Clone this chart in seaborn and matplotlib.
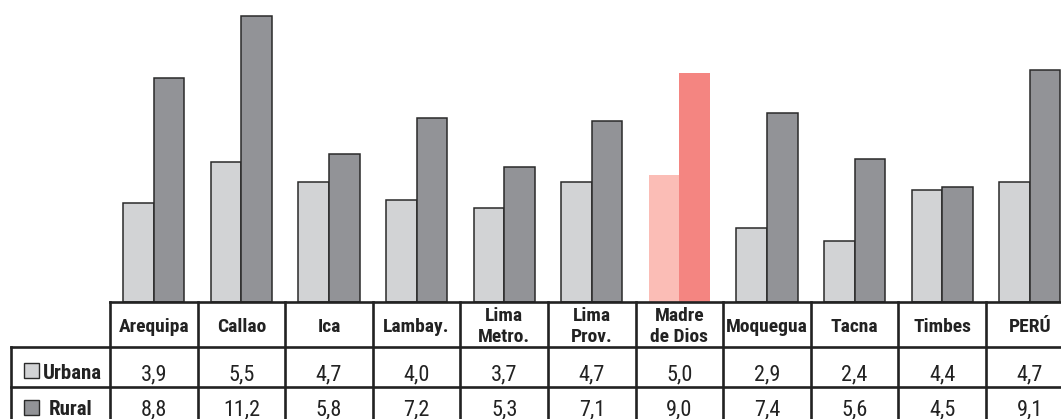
import pandas as pd
import matplotlib.pyplot as plt
import seaborn as sns
from matplotlib.patches import Rectangle

# Datos (tasas por área de residencia)
regiones = ["Arequipa", "Callao", "Ica", "Lambay.", "Lima\nMetro.", "Lima\nProv.",
            "Madre\nde Dios", "Moquegua", "Tacna", "Timbes", "PERÚ"]
urbana = [3.9, 5.5, 4.7, 4.0, 3.7, 4.7, 5.0, 2.9, 2.4, 4.4, 4.7]
rural = [8.8, 11.2, 5.8, 7.2, 5.3, 7.1, 9.0, 7.4, 5.6, 4.5, 9.1]
areas = ["Urbana", "Rural"]
destacado = "Madre\nde Dios"

colores = {"Urbana": "#D2D3D5", "Rural": "#929397"}
colores_dest = {"Urbana": "#FBBDB6", "Rural": "#F48581"}
borde = "#2a2a2a"
texto = "#222222"

df = pd.DataFrame({
    "region": regiones * 2,
    "area": ["Urbana"] * len(regiones) + ["Rural"] * len(regiones),
    "valor": urbana + rural,
})

sns.set_style("white")
plt.rcParams["font.family"] = ["Roboto Condensed", "Archivo Narrow", "DejaVu Sans"]

W, H = 1061, 419
fig = plt.figure(figsize=(W / 100, H / 100), dpi=100)

# geometría en píxeles
x0 = 110
col_w = 87.6
y_tabla = 302
y_fila1 = 346.5
y_fila2 = 387
px_por_unidad = 25.5

# barras
ax = fig.add_axes([x0 / W, 1 - y_tabla / H, col_w * len(regiones) / W, y_tabla / H])
sns.barplot(data=df, x="region", y="valor", hue="area", order=regiones,
            hue_order=areas, palette=colores, width=0.70, saturation=1,
            edgecolor=borde, linewidth=1.1, legend=False, ax=ax)
i_dest = regiones.index(destacado)
for cont, area in zip(ax.containers, areas):
    cont[i_dest].set_facecolor(colores_dest[area])
    cont[i_dest].set_edgecolor("none")
ax.set_xlim(-0.5, len(regiones) - 0.5)
ax.set_ylim(0, y_tabla / px_por_unidad)
ax.set_axis_off()

# tabla de datos
tab = fig.add_axes([0, 0, 1, 1])
tab.set_xlim(0, W)
tab.set_ylim(H, 0)
tab.set_axis_off()
lw = 1.9
x_fin = x0 + col_w * len(regiones)
tab.plot([x0, x_fin], [y_tabla, y_tabla], color=texto, lw=lw, solid_capstyle="projecting")
for y in (y_fila1, y_fila2):
    tab.plot([11, x_fin], [y, y], color=texto, lw=lw, solid_capstyle="projecting")
tab.plot([11, 11], [y_fila1, H + 5], color=texto, lw=lw, solid_capstyle="projecting")
for i in range(len(regiones) + 1):
    x = x0 + i * col_w
    tab.plot([x, x], [y_tabla, H + 5], color=texto, lw=lw, solid_capstyle="projecting")

for i, reg in enumerate(regiones):
    xc = x0 + (i + 0.5) * col_w
    lineas = reg.split("\n")
    if len(lineas) == 1:
        tab.text(xc, 332, reg, ha="center", va="baseline", fontsize=14,
                 fontweight="bold", color=texto)
    else:
        tab.text(xc, 321, lineas[0], ha="center", va="baseline", fontsize=14,
                 fontweight="bold", color=texto)
        tab.text(xc, 342, lineas[1], ha="center", va="baseline", fontsize=14,
                 fontweight="bold", color=texto)
    tab.text(xc, 380, f"{urbana[i]:.1f}".replace(".", ","), ha="center",
             va="baseline", fontsize=16, color=texto)
    tab.text(xc, 415, f"{rural[i]:.1f}".replace(".", ","), ha="center",
             va="baseline", fontsize=16, color=texto)

# leyenda en la columna de etiquetas
for area, y_cuadro, y_txt, x_txt in (("Urbana", 363, 379, 43), ("Rural", 400, 415, 49)):
    tab.add_patch(Rectangle((24, y_cuadro), 15, 15, facecolor=colores[area],
                            edgecolor=borde, lw=1.0))
    tab.text(x_txt, y_txt, area, ha="left", va="baseline", fontsize=15,
             fontweight="bold", color=texto)

fig.savefig("out.png", dpi=100)
